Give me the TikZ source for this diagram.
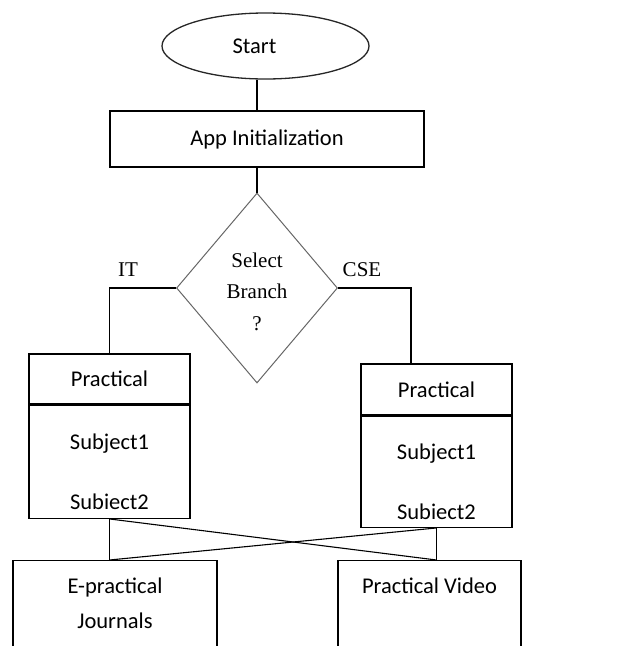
\documentclass[tikz,border=0pt]{standalone}
\usepackage{fontspec}
\setmainfont{Carlito}
\newfontfamily\timesf{Liberation Serif}
\usetikzlibrary{shapes.geometric}

\tikzset{
  box/.style={draw=black,line width=1.3pt,inner sep=0pt,
    font=\fontsize{22.5}{30}\selectfont},
  branchtxt/.style={font=\timesf\fontsize{21}{31.5}\selectfont}
}

\begin{document}
\begin{tikzpicture}[x=1pt,y=-1pt]
  \useasboundingbox (0,0) rectangle (622,646);
  \clip (0,0) rectangle (622,646);
  % top part
  \node[box,ellipse,draw=black!85,minimum width=207,minimum height=66](start)at(265.5,46){\hspace*{-22pt}Start};
  \node[box,minimum width=314,minimum height=56](init)at(267,139){App Initialization};
  \node[diamond,draw=black!60,line width=1pt,inner sep=0pt,minimum width=161,minimum height=190,
        align=center,branchtxt](branch)at(257,288){\rule{0pt}{22pt}Select\\Branch\\?};
  \draw[line width=1.3pt](branch.north |- start.south)--(branch.north |- init.north);
  \draw[line width=1.3pt](init.south -| branch.north)--(branch.north);
  % branch labels
  \node[branchtxt](it)at(128,270){IT};
  \node[branchtxt](cse)at(362,270){CSE};
  % practical boxes
  \node[box,minimum width=161,minimum height=50](ithead)at(109.5,379){Practical};
  \node[box,anchor=north,minimum width=161,minimum height=113,align=center,
        font=\fontsize{22.5}{60}\selectfont](itbody)at(ithead.south){\rule{0pt}{35pt}Subject1\\Subiect2};
  \node[box,minimum width=151,minimum height=51](csehead)at(436.5,389.5){Practical};
  \node[box,anchor=north,minimum width=151,minimum height=111,align=center,
        font=\fontsize{22.5}{60}\selectfont](csebody)at(csehead.south){\rule{0pt}{35pt}Subject1\\Subiect2};
  \coordinate(cseturn)at(411,288);
  \draw[line width=1.3pt](branch.west)-|(ithead.north);
  \draw[line width=1.3pt](branch.east)-|(cseturn |- csehead.north);
  % bottom boxes (cut off by the page)
  \node[box,anchor=north,minimum width=204,minimum height=130,
        label={[anchor=north,align=center,font=\fontsize{22.5}{35}\selectfont,yshift=-14pt]north:E-practical\\Journals}]
        (journals)at(115,560){};
  \node[box,anchor=north,minimum width=183,minimum height=130,
        label={[anchor=north,font=\fontsize{22.5}{35}\selectfont,yshift=-14pt]north:Practical Video}]
        (video)at(429.5,560){};
  \draw[line width=1.3pt](itbody.south)--(itbody.south |- journals.north);
  \draw[line width=1.3pt](csebody.south)--(csebody.south |- video.north);
  \draw[line width=1.1pt](itbody.south)--(csebody.south |- video.north);
  \draw[line width=1.1pt](csebody.south)--(itbody.south |- journals.north);
\end{tikzpicture}
\end{document}
